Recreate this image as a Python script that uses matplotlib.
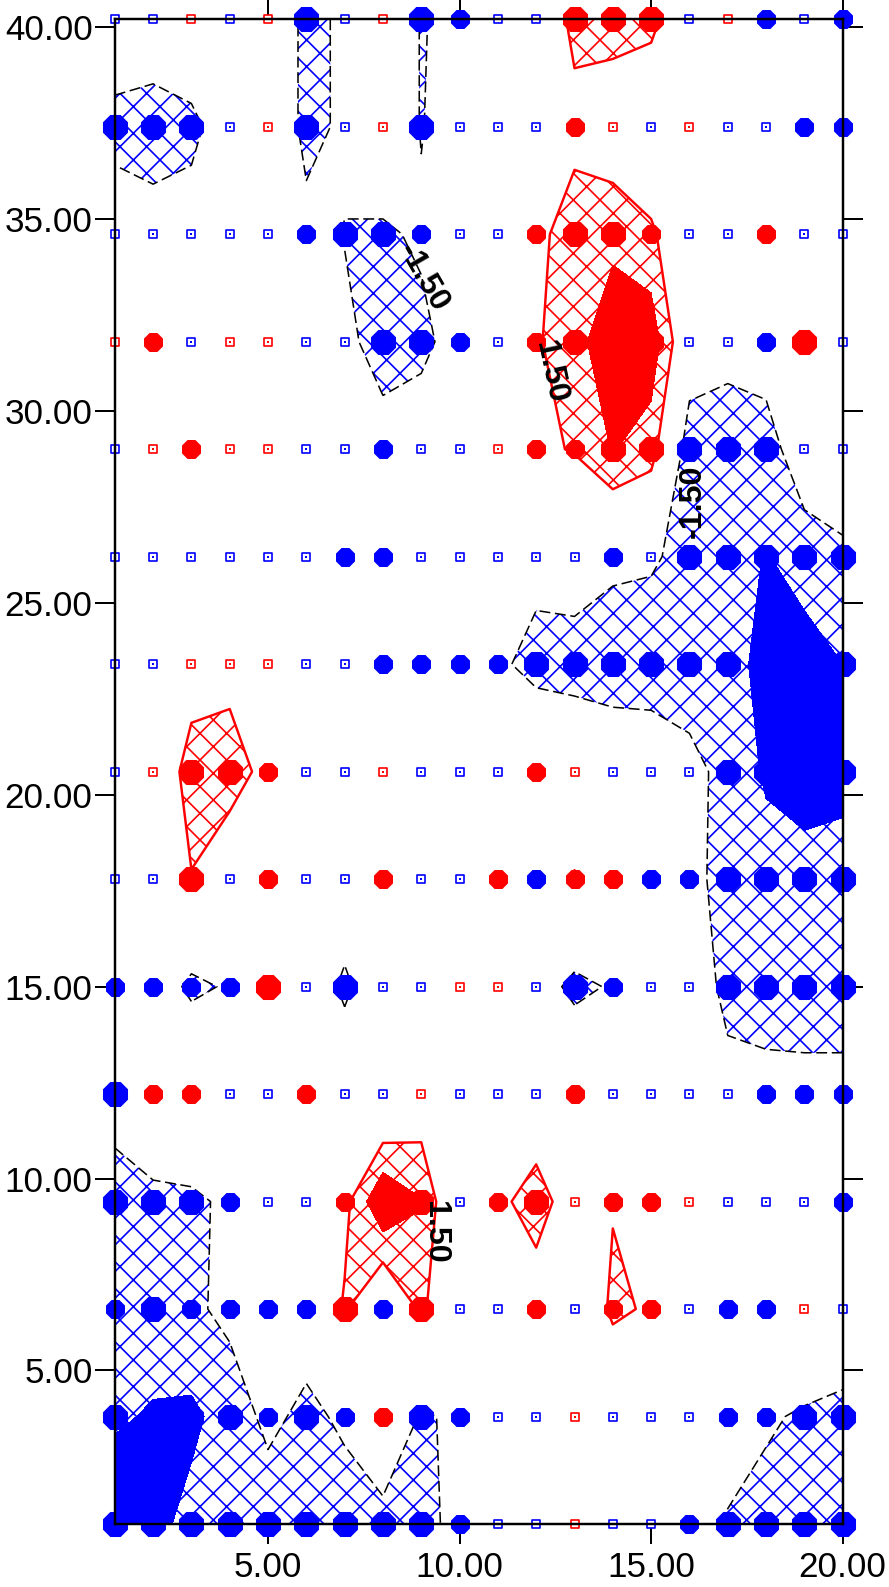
import numpy as np
import matplotlib
matplotlib.use("Agg")
import matplotlib.pyplot as plt

# grid of stations
xs = list(range(1, 21))
ys = [1.0, 3.8, 6.6, 9.4, 12.2, 15.0, 17.8, 20.6, 23.4, 26.2, 29.0, 31.8, 34.6, 37.4, 40.2]

# posted symbol at each station (rows from bottom): colour b/r, size s/m/L
posts = [
    "bL bL bL bL bL bL bL bL bL bm bs bs rs bs bs bm bL bL bL bL",
    "bL bL bL bL bm bL bm rm bL bm bs bs rs bs bs bs bm bm bL bL",
    "bm bL bm bm bm bm rL bm rL bs bs rm bs rm rm bs bm bm rs bs",
    "bL bL bL bm bs bs rm rL rL bs rm rL rs rm rm rs bs bs bs bm",
    "bL rm rm bs bs rm bs bs rs bs bs bs rm bs bs bs bs bm bm bm",
    "bm bm bm bm rL bs bL bs bs rs rs bs bL bm bs bs bL bL bL bL",
    "bs bs rL bs rm bs bs rm bs bs rm bm rm rm bm bm bL bL bL bL",
    "bs rs rL rL rm bs bs rs bs bs bs rm rs bs bs bs bL bL bL bL",
    "bs bs rs rs rs bs bs bm bm bm bm bL bL bL bL bL bL bL bL bL",
    "bs bs bs bs bs bs bm bm bs bs bs bs bs bm bs bL bL bL bL bL",
    "bs rs rm rs rs bs bs bm bs bs rs rm rm rL rL bL bL bL bs bs",
    "rs rm bs rs rs bs bs bL bL bm bs rm rL rL rL bs bs bm rL bs",
    "bs bs bs bs bs bm bL bL bm bs bs rm rL rL rm bs bs rm bs bs",
    "bL bL bL bs rs bL bs rs bL bs bs bs rm rs bs rs bs bs bm bm",
    "bs bs rs bs rs bL bs rs bL bm bs bs rL rL rL bs rs bm bs bm",
]

# contoured field (rows from bottom)
field = [
    [-4.0, -3.4, -2.6, -2.4, -2.4, -2.4, -2.3, -2.2, -2.0, -1.0, -0.3, -0.2, 0.2, -0.2, -0.3, -0.9, -1.6, -2.0, -2.2, -2.3],
    [-2.8, -3.15, -3.3, -2.4, -1.1, -1.9, -1.2, 0.5, -1.7, -1.2, -0.3, -0.3, 0.3, -0.3, -0.3, -0.4, -0.9, -1.3, -1.7, -1.9],
    [-1.8, -2.2, -1.8, -1.1, -0.9, -0.6, 1.7, -0.8, 1.8, -0.3, -0.2, 0.3, -0.2, 1.8, 1.3, -0.3, -0.9, -0.9, 0.3, -0.3],
    [-2.0, -2.1, -1.9, -1.1, -0.3, -0.2, 1.0, 4.5, 3.1, -1.0, 1.0, 2.4, 0.3, 1.4, 1.3, 0.3, -0.3, -0.3, -0.3, -0.9],
    [-1.0, 0.9, 1.0, -0.3, -0.2, 0.9, -0.2, -1.0, 0.2, -0.2, -0.2, -0.2, 0.9, -0.3, -0.3, -0.3, -0.9, -1.0, -1.0, -1.0],
    [-1.0, -0.3, -1.9, -1.3, 1.4, -0.3, -1.8, -0.3, -0.3, 0.3, 0.3, -0.5, -2.0, -1.3, -0.3, -0.3, -2.0, -2.2, -2.3, -2.3],
    [-0.3, -0.3, 1.45, 0.3, 1.0, -0.3, -0.3, 1.0, -0.3, -0.3, 1.0, -1.0, 1.6, 1.0, -1.0, -1.0, -2.1, -2.4, -2.5, -2.6],
    [-0.3, 0.4, 2.0, 2.2, 1.0, -0.3, -0.3, 0.3, -0.3, -0.3, -0.3, 1.0, 0.4, -0.3, -0.3, -1.0, -2.0, -3.2, -3.6, -3.3],
    [-0.3, -0.3, 0.9, 1.0, 0.5, -0.3, -0.3, -1.0, -1.0, -1.0, -1.1, -2.2, -2.3, -2.3, -2.4, -2.4, -2.4, -3.5, -3.8, -3.0],
    [-0.3, -0.3, -0.3, -0.3, -0.3, -0.3, -1.0, -1.0, -0.3, -0.3, -0.3, -0.8, -0.5, -1.2, -1.3, -2.0, -2.2, -3.1, -2.2, -1.8],
    [-0.3, 0.3, 1.0, 0.3, 0.3, -0.3, -0.3, -1.0, -0.3, -0.3, 0.3, 1.2, 1.6, 3.1, 2.2, -2.4, -2.6, -2.1, -0.6, -0.3],
    [0.3, 1.0, -0.3, 0.3, 0.3, -0.3, -1.2, -2.0, -2.0, -0.6, -0.3, 1.3, 2.5, 4.0, 4.0, -0.4, -0.8, -0.8, 1.4, -0.3],
    [-0.6, -0.8, -0.6, -0.3, -0.3, -1.0, -1.55, -1.8, -1.2, -0.3, -0.3, 1.0, 2.4, 2.6, 1.8, -0.3, -0.3, 1.0, -0.3, -0.3],
    [-2.0, -2.3, -2.0, -0.3, 0.3, -2.0, -1.2, 0.3, -1.6, -0.3, -0.3, -0.3, 0.9, 0.3, -0.3, 0.3, -0.3, -0.3, -1.0, -1.0],
    [-0.3, -0.3, 0.3, -0.3, 0.3, -2.0, -1.2, 0.3, -1.6, -1.0, -0.3, -0.3, 2.0, 2.2, 2.0, -0.3, 0.3, -1.0, -0.3, -1.0],
]

# contour labels: text, x, y, angle
labels = [("-1.50", 9.04, 33.47, -60), ("1.50", 12.37, 31.0, -78),
          ("-1.50", 16.08, 27.64, 90), ("1.50", 9.36, 8.61, -90)]

BLUE = "#0000ff"
RED = "#ff0000"
plt.rcParams["font.family"] = ["Liberation Sans", "DejaVu Sans"]
plt.rcParams["hatch.linewidth"] = 1.5

fig = plt.figure(figsize=(889 / 80, 1587 / 80), dpi=80)
ax = fig.add_axes([0.1291, 0.0397, 0.8188, 0.9481])

X, Y = np.meshgrid(xs, ys)
Z = np.array(field)
codes = np.array([r.split() for r in posts])

with plt.rc_context({"hatch.color": BLUE}):
    ax.contourf(X, Y, Z, levels=[-100, -1.5], colors="none", hatches=["x"], zorder=1)
with plt.rc_context({"hatch.color": RED}):
    ax.contourf(X, Y, Z, levels=[1.5, 100], colors="none", hatches=["x"], zorder=1)
ax.contourf(X, Y, Z, levels=[-100, -3.0], colors=[BLUE], zorder=1.1)
ax.contourf(X, Y, Z, levels=[3.0, 100], colors=[RED], zorder=1.1)
ax.contour(X, Y, Z, levels=[-1.5], colors="black", linewidths=1.4,
           linestyles=[(0, (7, 3))], zorder=1.2)
ax.contour(X, Y, Z, levels=[1.5], colors=RED, linewidths=2.2, zorder=1.2)

cmap = {"b": BLUE, "r": RED}
for c in "br":
    for k, sz in (("L", 24.4), ("m", 18.5)):
        m = codes == c + k
        ax.scatter(X[m], Y[m], s=sz ** 2, marker="8", color=cmap[c], lw=0,
                   zorder=2, clip_on=False)
    m = codes == c + "s"
    ax.scatter(X[m], Y[m], s=7.2 ** 2, marker="s", facecolor="white",
               edgecolor=cmap[c], lw=1.5, zorder=2, clip_on=False)
    ax.scatter(X[m], Y[m], s=2.0 ** 2, marker="s", color=cmap[c], lw=0,
               zorder=2.1, clip_on=False)

for t, x, y, a in labels:
    ax.text(x, y, t, rotation=a, ha="center", va="center", fontsize=29,
            fontweight="bold", color="black", zorder=3)

ax.set_xlim(1, 20)
ax.set_ylim(1, 40.2)
ax.set_xticks([5, 10, 15, 20])
ax.set_yticks(range(5, 41, 5))
ax.xaxis.set_major_formatter(lambda v, p: "%.2f" % v)
ax.yaxis.set_major_formatter(lambda v, p: "%.2f" % v)
ax.tick_params(direction="out", length=18, width=1.8, top=True, right=True,
               labelsize=31.5, colors="black")
ax.tick_params(axis="x", pad=6)
ax.tick_params(axis="y", pad=2)
for s in ax.spines.values():
    s.set_linewidth(2.2)

fig.savefig("out.png", dpi=80)
